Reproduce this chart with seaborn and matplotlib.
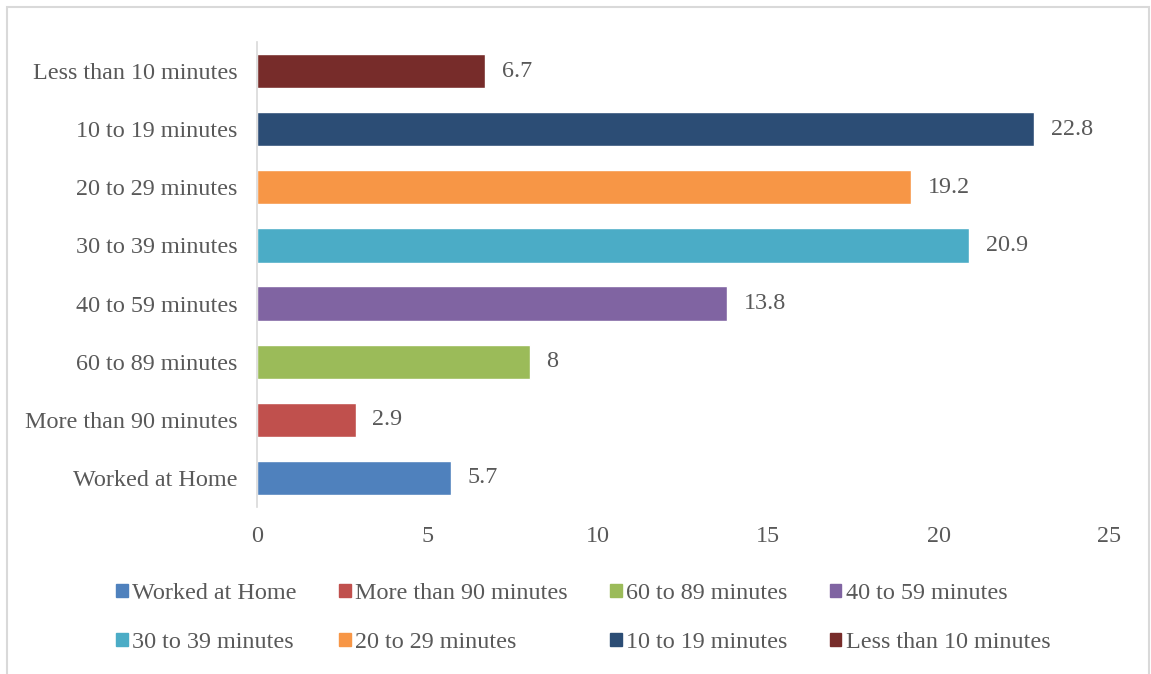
import matplotlib
matplotlib.use("Agg")
import matplotlib.pyplot as plt
import matplotlib.patches as mpatches
import seaborn as sns
import pandas as pd

categories = ["Less than 10 minutes", "10 to 19 minutes", "20 to 29 minutes",
              "30 to 39 minutes", "40 to 59 minutes", "60 to 89 minutes",
              "More than 90 minutes", "Worked at Home"]
values = [6.7, 22.8, 19.2, 20.9, 13.8, 8, 2.9, 5.7]
colors = ["#772C2A", "#2C4D75", "#F79646", "#4BACC6", "#8064A2", "#9BBB59",
          "#C0504D", "#4F81BD"]
legend_order = ["Worked at Home", "More than 90 minutes", "60 to 89 minutes",
                "40 to 59 minutes", "30 to 39 minutes", "20 to 29 minutes",
                "10 to 19 minutes", "Less than 10 minutes"]
xticks = [0, 5, 10, 15, 20, 25]

sns.set_theme(style="white")
plt.rcParams["font.family"] = ["Liberation Serif", "DejaVu Serif"]
TXT = "#595959"
FS = 17.4

df = pd.DataFrame({"category": categories, "value": values})
palette = dict(zip(categories, colors))

fig = plt.figure(figsize=(11.51, 6.74), dpi=100)
ax = fig.add_axes([257/1151, 1-507/674, 852/1151, 465/674])
sns.barplot(data=df, y="category", x="value", hue="category", order=categories,
            hue_order=categories, palette=palette, dodge=False, width=0.59,
            legend=False, ax=ax, saturation=1)

for c in ax.containers:
    labels = ax.bar_label(c, labels=[f"{v:g}" for v in c.datavalues], padding=12,
                          fontsize=FS, color=TXT)

ax.set_xlim(0, 25)
ax.set_ylim(7.5, -0.5)
ax.set_xticks(xticks)
ax.set_xlabel("")
ax.set_ylabel("")
ax.tick_params(axis="both", length=0, labelsize=FS, colors=TXT)
ax.tick_params(axis="y", pad=14)
ax.tick_params(axis="x", pad=14)
for s in ["top", "right", "bottom"]:
    ax.spines[s].set_visible(False)
ax.spines["left"].set_color("#D9D9D9")
ax.spines["left"].set_linewidth(1.2)
ax.grid(False)

handles = {cat: mpatches.Patch(color=palette[cat]) for cat in categories}
seq = [0, 4, 1, 5, 2, 6, 3, 7]
hs = [handles[legend_order[i]] for i in seq]
ls = [legend_order[i] for i in seq]
leg = fig.legend(hs, ls, loc="center", bbox_to_anchor=(0.507, 1-618/674), ncol=4,
                 frameon=False, fontsize=FS, handlelength=0.47, handleheight=0.47,
                 handletextpad=0.2, columnspacing=1.75, labelspacing=1.15)
for t in leg.get_texts():
    t.set_color(TXT)

border = mpatches.Rectangle((7/1151, -0.01), 1142/1151, 1-7/674+0.01,
                            transform=fig.transFigure, fill=False,
                            edgecolor="#D9D9D9", linewidth=1.5)
fig.patches.append(border)

fig.savefig("out.png", dpi=100)
